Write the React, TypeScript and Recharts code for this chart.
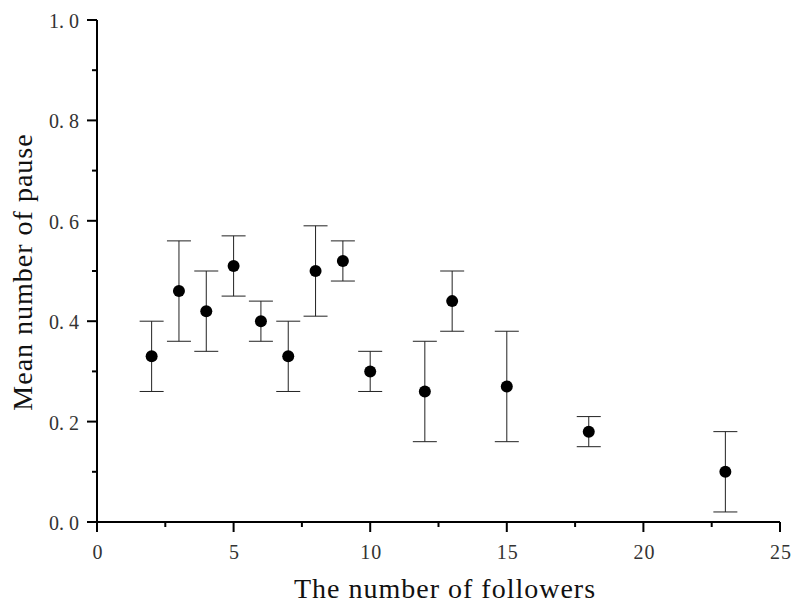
import { ScatterChart, Scatter, XAxis, YAxis, ErrorBar } from 'recharts';

// 数据：跟随者数量 vs 平均停顿次数（含误差）
const followers = [2, 3, 4, 5, 6, 7, 8, 9, 10, 12, 13, 15, 18, 23];
const meanPause = [0.33, 0.46, 0.42, 0.51, 0.4, 0.33, 0.5, 0.52, 0.3, 0.26, 0.44, 0.27, 0.18, 0.1];
const pauseError = [0.07, 0.1, 0.08, 0.06, 0.04, 0.07, 0.09, 0.04, 0.04, 0.1, 0.06, 0.11, 0.03, 0.08];

const xTicks = [0, 2.5, 5, 7.5, 10, 12.5, 15, 17.5, 20, 22.5, 25];
const yTicks = [0, 0.1, 0.2, 0.3, 0.4, 0.5, 0.6, 0.7, 0.8, 0.9, 1.0];

const xTitle = 'The number of followers';
const yTitle = 'Mean number of pause';

const TICK_FONT = "'Liberation Serif', serif";
const TITLE_FONT = "'Liberation Serif', serif";

const YTick = ({ x, y, payload }: any) => {
  const v = payload.value as number;
  const major = Math.round(v * 10) % 2 === 0;
  const label = v.toFixed(1);
  const [a, b] = label.split('.');
  return (
    <g>
      <line x1={x} x2={x - (major ? 10 : 5)} y1={y} y2={y} stroke="#000" strokeWidth={2} />
      {major && (
        <text x={x - 18} y={y + 8} textAnchor="end" fontFamily={TICK_FONT} fontSize={20} fill="#333">
          <tspan>{a}.</tspan>
          <tspan dx={5}>{b}</tspan>
        </text>
      )}
    </g>
  );
};

const XTick = ({ x, y, payload }: any) => {
  const v = payload.value as number;
  const major = v % 5 === 0;
  return (
    <g>
      <line x1={x} x2={x} y1={y} y2={y + (major ? 10 : 5)} stroke="#000" strokeWidth={2} />
      {major && (
        <text x={x + 1} y={y + 37} textAnchor="middle" fontFamily={TICK_FONT} fontSize={20} letterSpacing={1} fill="#333">
          {v}
        </text>
      )}
    </g>
  );
};

const XTitle = () => (
  <text x={445} y={598} textAnchor="middle" fontFamily={TITLE_FONT} fontSize={28} letterSpacing={1} fill="#111">
    {xTitle}
  </text>
);

const YTitle = () => (
  <text
    x={32}
    y={272}
    textAnchor="middle"
    transform="rotate(-90, 32, 272)"
    fontFamily={TITLE_FONT}
    fontSize={28}
    letterSpacing={1}
    fill="#111"
  >
    {yTitle}
  </text>
);

const Dot = (p: any) => <circle cx={p.cx} cy={p.cy} r={6} fill="#000" />;

export default function App() {
  const data = followers.map((f, i) => ({ x: f, y: meanPause[i], err: pauseError[i] }));

  return (
    <div style={{ position: 'absolute', left: 0, top: 0, width: 791, height: 603, background: '#fff' }}>
      <ScatterChart width={791} height={603} margin={{ top: 20, right: 11, bottom: 0, left: 0 }}>
        <XAxis
          dataKey="x"
          type="number"
          domain={[0, 25]}
          ticks={xTicks}
          interval={0}
          height={81}
          tickSize={0}
          tickMargin={0}
          tickLine={false}
          axisLine={{ stroke: '#000', strokeWidth: 2 }}
          tick={<XTick />}
          label={<XTitle />}
        />
        <YAxis
          dataKey="y"
          type="number"
          domain={[0, 1]}
          ticks={yTicks}
          interval={0}
          width={97}
          tickSize={0}
          tickMargin={0}
          tickLine={false}
          axisLine={{ stroke: '#000', strokeWidth: 2 }}
          tick={<YTick />}
          label={<YTitle />}
        />
        <Scatter data={data} shape={<Dot />} isAnimationActive={false}>
          <ErrorBar dataKey="err" direction="y" width={12} stroke="#222" strokeWidth={1} isAnimationActive={false} />
        </Scatter>
      </ScatterChart>
    </div>
  );
}
